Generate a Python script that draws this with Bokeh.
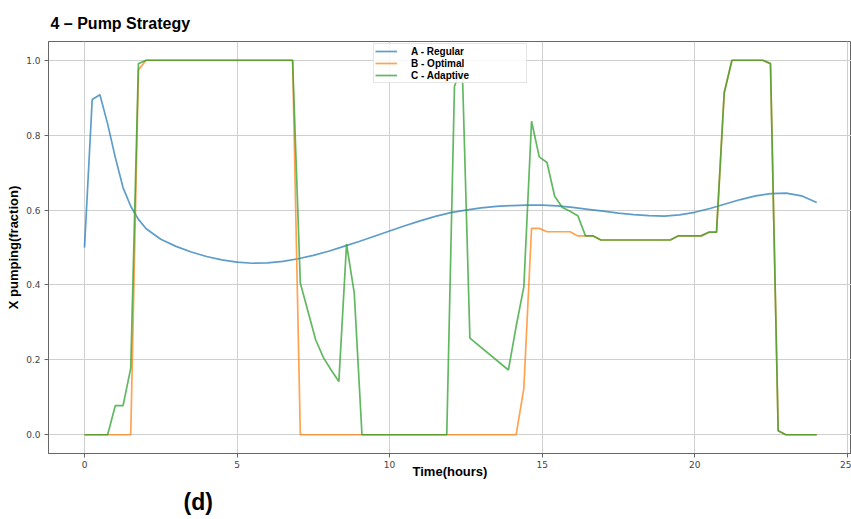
from bokeh.plotting import figure
from bokeh.models import (Range1d, FixedTicker, PrintfTickFormatter, Legend,
                          LegendItem, Title)
from bokeh.embed import file_html
from bokeh.resources import INLINE

# ---------------- data ----------------
title_text = "4 \u2013 Pump Strategy"
x_label = "Time(hours)"
y_label = "X pumping(fraction)"
panel_tag = "(d)"
series_names = ["A - Regular", "B - Optimal", "C - Adaptive"]
x_ticks = [0, 5, 10, 15, 20, 25]
y_ticks = [0.0, 0.2, 0.4, 0.6, 0.8, 1.0]

regular_t = [0.0, 0.253, 0.505, 0.758, 1.011, 1.263, 1.516, 1.768, 2.021,
             2.5, 3.0, 3.5, 4.0, 4.5, 5.0, 5.5, 6.0, 6.5, 7.0,
             7.5, 8.0, 8.5, 9.0, 9.5, 10.0, 10.5, 11.0, 11.5, 12.0,
             12.5, 13.0, 13.5, 14.0, 14.5, 15.0, 15.5, 16.0, 16.5, 17.0,
             17.5, 18.0, 18.5, 19.0, 19.5, 20.0, 20.5, 21.0, 21.5, 22.0,
             22.5, 23.0, 23.5, 24.0]
regular_v = [0.5, 0.895, 0.908, 0.83, 0.74, 0.66, 0.61, 0.575, 0.55,
             0.522, 0.503, 0.488, 0.476, 0.467, 0.461, 0.458, 0.459, 0.463, 0.47,
             0.479, 0.49, 0.503, 0.516, 0.53, 0.544, 0.558, 0.571, 0.583, 0.593,
             0.6, 0.606, 0.61, 0.612, 0.613, 0.613, 0.611, 0.607, 0.602, 0.597,
             0.592, 0.588, 0.585, 0.584, 0.587, 0.594, 0.604, 0.616, 0.628, 0.638,
             0.644, 0.645, 0.638, 0.62]

optimal_t = [0.0, 1.516, 1.768, 2.021, 6.821, 7.074, 14.147, 14.4, 14.653,
             14.905, 15.158, 15.916, 16.168, 16.421, 16.674, 16.926, 19.2,
             19.453, 20.211, 20.463, 20.716, 20.968, 21.221, 22.232, 22.484,
             22.737, 22.989, 24.0]
optimal_v = [0.0, 0.0, 0.975, 1.0, 1.0, 0.0, 0.0, 0.124, 0.551,
             0.551, 0.542, 0.542, 0.531, 0.531, 0.531, 0.52, 0.52,
             0.531, 0.531, 0.541, 0.541, 0.913, 1.0, 1.0, 0.991,
             0.011, 0.0, 0.0]

adaptive_t = [0.0, 0.758, 1.011, 1.263, 1.516, 1.768, 2.021, 6.821, 7.074,
              7.326, 7.579, 7.832, 8.084, 8.337, 8.589, 8.842, 9.095, 11.874,
              12.126, 12.379, 12.632, 13.895, 14.147, 14.4, 14.653, 14.905,
              15.158, 15.411, 15.663, 15.916, 16.168, 16.421, 16.674, 16.926,
              19.2, 19.453, 20.211, 20.463, 20.716, 20.968, 21.221, 22.232,
              22.484, 22.737, 22.989, 24.0]
adaptive_v = [0.0, 0.0, 0.078, 0.078, 0.178, 0.991, 1.0, 1.0, 0.405,
              0.329, 0.253, 0.206, 0.173, 0.142, 0.509, 0.378, 0.0, 0.0,
              0.93, 0.99, 0.258, 0.173, 0.289, 0.395, 0.837, 0.742,
              0.727, 0.637, 0.607, 0.597, 0.585, 0.531, 0.531, 0.52,
              0.52, 0.531, 0.531, 0.541, 0.541, 0.913, 1.0, 1.0,
              0.991, 0.011, 0.0, 0.0]

colors = ["#1f77b4", "#ff7f0e", "#2ca02c"]

# ---------------- figure ----------------
p = figure(width=851, height=519,
           x_range=Range1d(-1.18, 25.14), y_range=Range1d(-0.05, 1.05),
           output_backend="svg", toolbar_location=None,
           min_border_left=48, min_border_right=0,
           min_border_top=41, min_border_bottom=66)

p.title.text = title_text
p.title.align = "left"
p.title.offset = 2
p.title.standoff = 20
p.title.text_font = "Liberation Sans"
p.title.text_font_size = "16px"
p.title.text_font_style = "bold"
p.title.text_color = "#000000"

p.background_fill_color = "white"
p.border_fill_color = "white"
p.outline_line_color = "#666666"
p.outline_line_width = 1

for g in (p.xgrid, p.ygrid):
    g.grid_line_color = "#cfcfcf"
    g.grid_line_width = 1

p.xaxis.ticker = FixedTicker(ticks=x_ticks)
p.yaxis.ticker = FixedTicker(ticks=y_ticks)
p.yaxis.formatter = PrintfTickFormatter(format="%.1f")

for ax in (p.xaxis, p.yaxis):
    ax.axis_line_color = "#666666"
    ax.major_tick_line_color = "#666666"
    ax.major_tick_out = 4
    ax.major_tick_in = 0
    ax.minor_tick_line_color = None
    ax.major_label_text_font = "DejaVu Sans"
    ax.major_label_text_font_size = "9px"
    ax.major_label_text_color = "#444444"
    ax.axis_label_text_font = "Liberation Sans"
    ax.axis_label_text_font_style = "bold"
    ax.axis_label_text_color = "#000000"

p.xaxis.major_label_standoff = 3
p.yaxis.major_label_standoff = 4
p.xaxis.axis_label = x_label
p.xaxis.axis_label_text_font_size = "13px"
p.xaxis.axis_label_standoff = -7
p.yaxis.axis_label = y_label
p.yaxis.axis_label_text_font_size = "13px"
p.yaxis.axis_label_standoff = 2

r1 = p.line(regular_t, regular_v, line_color=colors[0], line_width=1.7, line_alpha=0.72)
r2 = p.line(optimal_t, optimal_v, line_color=colors[1], line_width=1.7, line_alpha=0.72)
r3 = p.line(adaptive_t, adaptive_v, line_color=colors[2], line_width=1.7, line_alpha=0.75)

legend = Legend(items=[LegendItem(label=series_names[0], renderers=[r1]),
                       LegendItem(label=series_names[1], renderers=[r2]),
                       LegendItem(label=series_names[2], renderers=[r3])],
                location=(325, 370), orientation="vertical")
legend.label_text_font = "Liberation Sans"
legend.label_text_font_size = "10px"
legend.label_text_font_style = "bold"
legend.label_text_color = "#000000"
legend.glyph_width = 22
legend.glyph_height = 12
legend.label_height = 12
legend.label_width = 114
legend.label_standoff = 14
legend.spacing = 0
legend.padding = 1
legend.margin = 0
legend.border_line_color = "#cccccc"
legend.border_line_width = 1
legend.background_fill_color = "white"
legend.background_fill_alpha = 0.85
p.add_layout(legend)

tag = Title(text=panel_tag, align="left", offset=135, standoff=10,
            text_font="Liberation Sans", text_font_size="23px",
            text_font_style="bold", text_color="#000000")
p.add_layout(tag, "below")

open("out.html", "w").write(file_html(p, INLINE))
